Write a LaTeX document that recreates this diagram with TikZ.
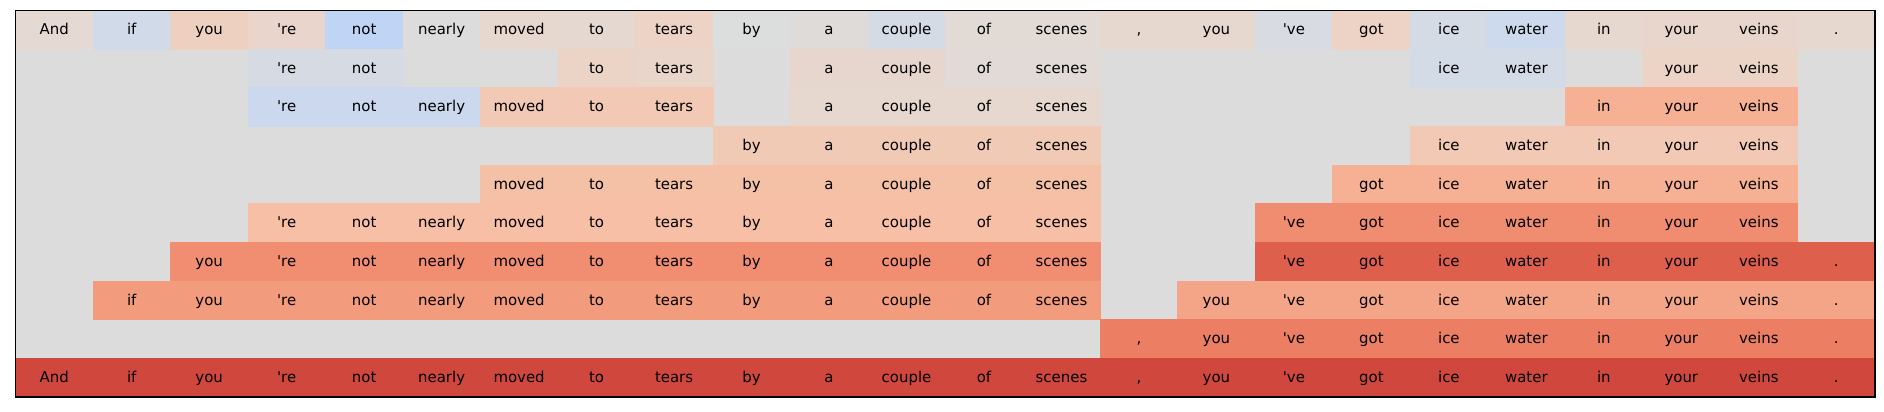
\documentclass[tikz,border=0pt]{standalone}
\usepackage{fontspec}
\newfontfamily\wordfont{DejaVu Sans}
% heat colours, row 0
\definecolor{t01}{HTML}{E4D9D3}
\definecolor{t02}{HTML}{D0DAE9}
\definecolor{t03}{HTML}{EED0C1}
\definecolor{t04}{HTML}{E9D5CB}
\definecolor{t05}{HTML}{C0D4F5}
\definecolor{t06}{HTML}{DDDCDC}
\definecolor{t07}{HTML}{E6D7CF}
\definecolor{t08}{HTML}{E5D8D1}
\definecolor{t09}{HTML}{ECD3C5}
\definecolor{t10}{HTML}{DCDDDD}
\definecolor{t11}{HTML}{DFDBD9}
\definecolor{t12}{HTML}{D5DBE5}
\definecolor{t13}{HTML}{E2DAD5}
\definecolor{t14}{HTML}{D8DCE2}
\definecolor{t15}{HTML}{CDD9EC}
\definecolor{t16}{HTML}{E8D6CC}
% heat colours, rows 1-9
\definecolor{t17}{HTML}{D6DBE3}
\definecolor{t18}{HTML}{EBD3C6}
\definecolor{t19}{HTML}{E9D5CA}
\definecolor{t20}{HTML}{E7D6CD}
\definecolor{t21}{HTML}{E1DAD6}
\definecolor{t22}{HTML}{D3DBE7}
\definecolor{t23}{HTML}{CBD8EE}
\definecolor{t24}{HTML}{F2C9B4}
\definecolor{t25}{HTML}{F6B093}
\definecolor{t26}{HTML}{F1CAB6}
\definecolor{t27}{HTML}{F4C0A6}
\definecolor{t28}{HTML}{F6B194}
\definecolor{t29}{HTML}{F6BFA6}
\definecolor{t30}{HTML}{F08C70}
\definecolor{t31}{HTML}{F18D70}
\definecolor{t32}{HTML}{DE5F4B}
\definecolor{t33}{HTML}{F39C7D}
\definecolor{t34}{HTML}{F5A587}
\definecolor{t35}{HTML}{EC7F63}
\definecolor{t36}{HTML}{D0473D}
\begin{document}
\begin{tikzpicture}[x=0.02cm,y=-0.02cm]
    \newcommand{\xStep}[0]{77.48}
    \newcommand{\yStep}[0]{38.67}
    \newcommand{\xOrig}[0]{15.5}
    \newcommand{\yOrig}[0]{10.3}
    
    \tikzstyle{cell}=[
      rectangle,
      fill=#1,
      draw=#1,
      line width=0.3pt,
      anchor=center,
      inner sep=0pt,
      minimum width=1.5496cm,
      minimum height=0.7734cm,
      text height=0.76em,
      text depth=0.22em,
      font=\wordfont\fontsize{8.5}{10}\selectfont,
    ]
    
    \useasboundingbox (0,0) rectangle (1884,412);
    \fill[t06] (\xOrig,\yOrig) rectangle (1875,397);
    
    % row 0
    \foreach \c/\w/\k in {0/And/t01, 1/if/t02, 2/you/t03, 3/'re/t04, 4/not/t05,
        5/nearly/t06, 6/moved/t07, 7/to/t08, 8/tears/t09, 9/by/t10, 10/a/t11,
        11/couple/t12, 12/of/t13, 13/scenes/t13, 14/{,}/t07, 15/you/t07,
        16/'ve/t14, 17/got/t09, 18/ice/t12, 19/water/t15, 20/in/t07,
        21/your/t16, 22/veins/t16, 23/./t07}
      \node[cell=\k] (r0c\c) at ({\xOrig+(\c+0.5)*\xStep},{\yOrig+0.5*\yStep}) {\w};
    
    % row 1
    \foreach \c/\w/\k in {3/'re/t17, 4/not/t17, 7/to/t18, 8/tears/t19,
        10/a/t20, 11/couple/t20, 12/of/t21, 13/scenes/t21,
        18/ice/t22, 19/water/t22, 21/your/t18, 22/veins/t18}
      \node[cell=\k] (r1c\c) at ({\xOrig+(\c+0.5)*\xStep},{\yOrig+1.5*\yStep}) {\w};
    
    % row 2
    \foreach \c/\w/\k in {3/'re/t23, 4/not/t23, 5/nearly/t23, 6/moved/t24,
        7/to/t24, 8/tears/t24, 10/a/t07, 11/couple/t07, 12/of/t07,
        13/scenes/t07, 20/in/t25, 21/your/t25, 22/veins/t25}
      \node[cell=\k] (r2c\c) at ({\xOrig+(\c+0.5)*\xStep},{\yOrig+2.5*\yStep}) {\w};
    
    % row 3
    \foreach \c/\w/\k in {9/by/t26, 10/a/t26, 11/couple/t26, 12/of/t26,
        13/scenes/t26, 18/ice/t24, 19/water/t24, 20/in/t24, 21/your/t24,
        22/veins/t24}
      \node[cell=\k] (r3c\c) at ({\xOrig+(\c+0.5)*\xStep},{\yOrig+3.5*\yStep}) {\w};
    
    % row 4
    \foreach \c/\w/\k in {6/moved/t27, 7/to/t27, 8/tears/t27, 9/by/t27,
        10/a/t27, 11/couple/t27, 12/of/t27, 13/scenes/t27, 17/got/t28,
        18/ice/t28, 19/water/t28, 20/in/t28, 21/your/t28, 22/veins/t28}
      \node[cell=\k] (r4c\c) at ({\xOrig+(\c+0.5)*\xStep},{\yOrig+4.5*\yStep}) {\w};
    
    % row 5
    \foreach \c/\w/\k in {3/'re/t29, 4/not/t29, 5/nearly/t29, 6/moved/t29,
        7/to/t29, 8/tears/t29, 9/by/t29, 10/a/t29, 11/couple/t29, 12/of/t29,
        13/scenes/t29, 16/'ve/t30, 17/got/t30, 18/ice/t30, 19/water/t30,
        20/in/t30, 21/your/t30, 22/veins/t30}
      \node[cell=\k] (r5c\c) at ({\xOrig+(\c+0.5)*\xStep},{\yOrig+5.5*\yStep}) {\w};
    
    % row 6
    \foreach \c/\w/\k in {2/you/t31, 3/'re/t31, 4/not/t31, 5/nearly/t31,
        6/moved/t31, 7/to/t31, 8/tears/t31, 9/by/t31, 10/a/t31,
        11/couple/t31, 12/of/t31, 13/scenes/t31, 16/'ve/t32, 17/got/t32,
        18/ice/t32, 19/water/t32, 20/in/t32, 21/your/t32, 22/veins/t32,
        23/./t32}
      \node[cell=\k] (r6c\c) at ({\xOrig+(\c+0.5)*\xStep},{\yOrig+6.5*\yStep}) {\w};
    
    % row 7
    \foreach \c/\w/\k in {1/if/t33, 2/you/t33, 3/'re/t33, 4/not/t33,
        5/nearly/t33, 6/moved/t33, 7/to/t33, 8/tears/t33, 9/by/t33,
        10/a/t33, 11/couple/t33, 12/of/t33, 13/scenes/t33, 15/you/t34,
        16/'ve/t34, 17/got/t34, 18/ice/t34, 19/water/t34, 20/in/t34,
        21/your/t34, 22/veins/t34, 23/./t34}
      \node[cell=\k] (r7c\c) at ({\xOrig+(\c+0.5)*\xStep},{\yOrig+7.5*\yStep}) {\w};
    
    % row 8
    \foreach \c/\w/\k in {14/{,}/t35, 15/you/t35, 16/'ve/t35, 17/got/t35,
        18/ice/t35, 19/water/t35, 20/in/t35, 21/your/t35, 22/veins/t35,
        23/./t35}
      \node[cell=\k] (r8c\c) at ({\xOrig+(\c+0.5)*\xStep},{\yOrig+8.5*\yStep}) {\w};
    
    % row 9
    \foreach \c/\w in {0/And, 1/if, 2/you, 3/'re, 4/not, 5/nearly, 6/moved,
        7/to, 8/tears, 9/by, 10/a, 11/couple, 12/of, 13/scenes, 14/{,},
        15/you, 16/'ve, 17/got, 18/ice, 19/water, 20/in, 21/your, 22/veins,
        23/.}
      \node[cell=t36] (r9c\c) at ({\xOrig+(\c+0.5)*\xStep},{\yOrig+9.5*\yStep}) {\w};
    
    \draw[line width=0.6pt] (\xOrig,\yOrig) rectangle (1875,397);
  \end{tikzpicture}
\end{document}
